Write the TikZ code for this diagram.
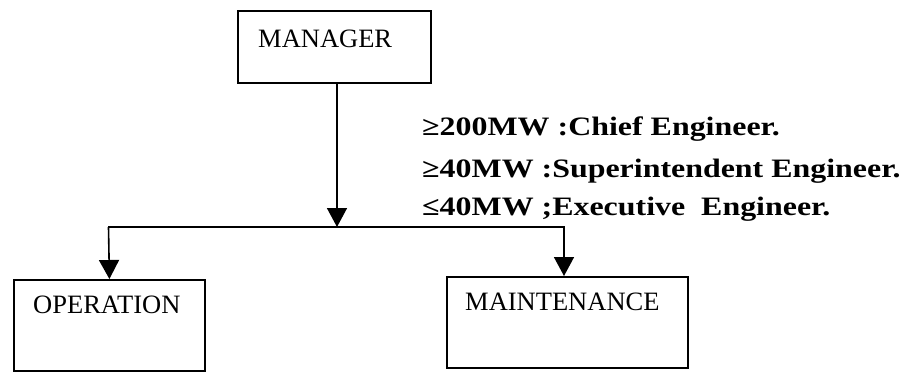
\documentclass[tikz,border=0pt]{standalone}
\usepackage{fontspec}
\setmainfont{Liberation Serif}
\newfontfamily\boldwide[FakeStretch=1.2]{Liberation Serif Bold}
\usetikzlibrary{arrows.meta}
\begin{document}
\begin{tikzpicture}[x=1pt,y=-1pt,
  box/.style={draw, line width=1.8pt, anchor=north west, inner sep=0pt},
  lab/.style={anchor=base west, inner sep=0pt, font=\fontsize{26.5}{30}\selectfont},
  note/.style={anchor=base west, inner sep=0pt, font=\boldwide\fontsize{26.6}{30}\selectfont},
  conn/.style={line width=1.6pt},
  arr/.style={conn, -{Triangle[width=20pt,length=19pt]}}]
\useasboundingbox (0,0) rectangle (914,372);
% boxes
\node[box, minimum width=193pt, minimum height=72pt] (mgr) at (237,10) {};
\node[box, minimum width=191pt, minimum height=91pt] (op) at (13,279) {};
\node[box, minimum width=241pt, minimum height=91pt] (mt) at (446,276) {};
% box labels
\node[lab] (mgrt) at (258,47) {MANAGER};
\node[lab] (opt) at (33,313) {OPERATION};
\node[lab] (mtt) at (465,310) {MAINTENANCE};
% notes
\node[note] (n1) at (422,135) {≥200MW :Chief Engineer.};
\node[note] (n2) at (422,177) {≥40MW :Superintendent Engineer.};
\node[note] (n3) at (422,215) {≤40MW ;Executive\hspace{0.3em} Engineer.};
% connectors
\coordinate (jm) at (337,227);
\coordinate (jl) at (108.5,227);
\coordinate (jr) at (564,227);
\draw[arr] (jm |- mgr.south) -- (jm);
\draw[conn, line cap=rect] (jl) -- (jr);
\draw[arr] (jl) -- (op.north);
\draw[arr] (jr) -- (jr |- mt.north);
\end{tikzpicture}
\end{document}
